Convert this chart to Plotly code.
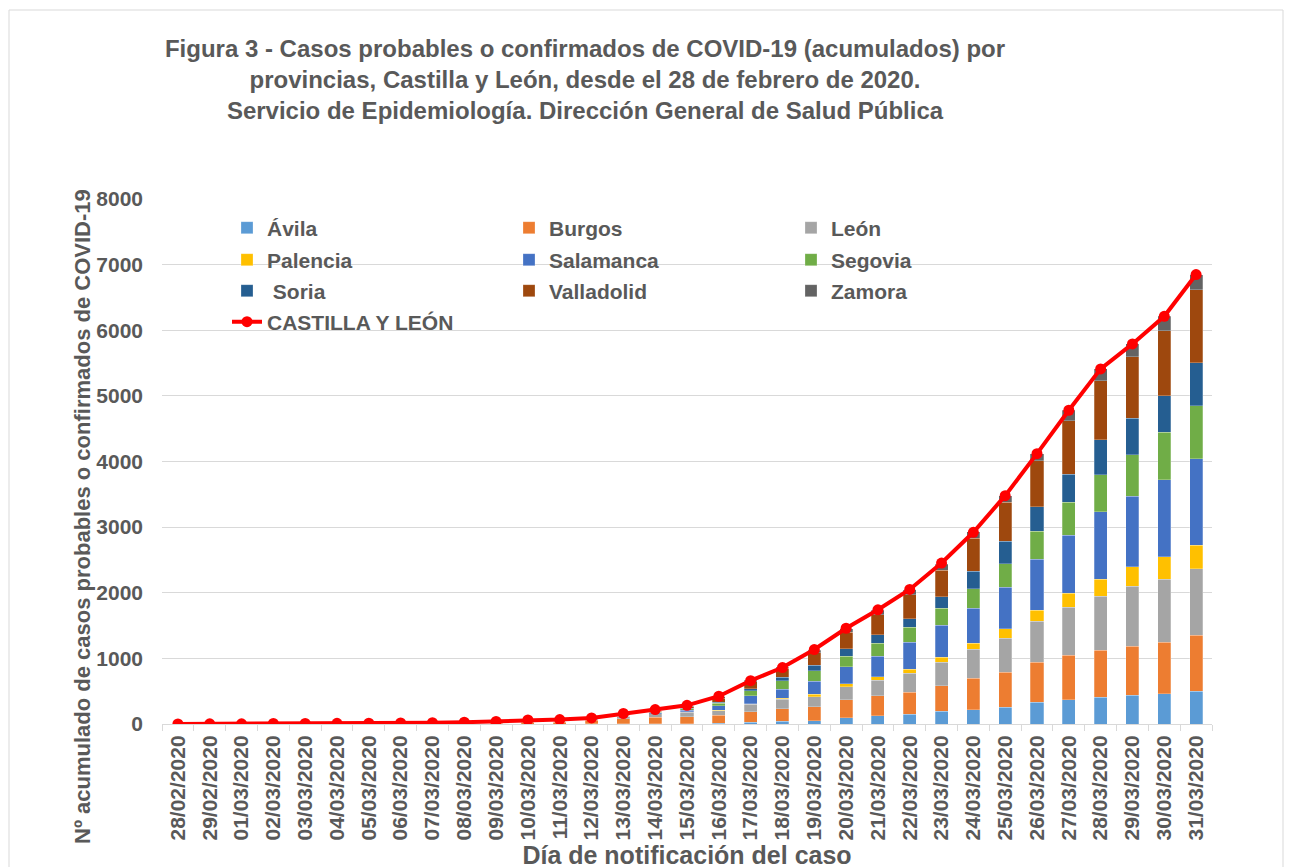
import plotly.graph_objects as go

dates = ["28/02/2020", "29/02/2020", "01/03/2020", "02/03/2020", "03/03/2020", "04/03/2020",
         "05/03/2020", "06/03/2020", "07/03/2020", "08/03/2020", "09/03/2020", "10/03/2020",
         "11/03/2020", "12/03/2020", "13/03/2020", "14/03/2020", "15/03/2020", "16/03/2020",
         "17/03/2020", "18/03/2020", "19/03/2020", "20/03/2020", "21/03/2020", "22/03/2020",
         "23/03/2020", "24/03/2020", "25/03/2020", "26/03/2020", "27/03/2020", "28/03/2020",
         "29/03/2020", "30/03/2020", "31/03/2020"]

avila = [0, 0, 0, 0, 0, 0, 0, 0, 0, 0, 0, 0, 0, 1, 2, 3, 5, 15, 25, 41, 46, 97, 128, 147,
         192, 217, 259, 335, 370, 410, 441, 462, 498]
burgos = [0, 0, 0, 2, 2, 3, 3, 5, 6, 10, 15, 25, 30, 55, 77, 103, 108, 118, 164, 194, 214, 275,
          306, 335, 392, 482, 528, 605, 676, 712, 747, 782, 854]
leon = [0, 0, 0, 1, 1, 1, 1, 2, 2, 3, 5, 8, 9, 12, 40, 50, 67, 71, 112, 143, 158, 194, 229, 292,
        360, 442, 523, 624, 732, 823, 910, 965, 1011]
palencia = [0, 0, 0, 0, 0, 0, 0, 0, 0, 0, 0, 0, 0, 0, 2, 4, 8, 8, 10, 15, 34, 46, 56, 64,
            76, 92, 142, 168, 213, 264, 300, 336, 361]
salamanca = [0, 0, 0, 0, 0, 0, 0, 1, 1, 2, 3, 5, 5, 6, 8, 12, 25, 67, 123, 138, 196, 260, 312,
             407, 483, 534, 631, 782, 884, 1027, 1072, 1179, 1316]
segovia = [0, 0, 0, 0, 0, 0, 0, 0, 1, 2, 3, 4, 4, 4, 5, 10, 22, 35, 76, 127, 160, 164, 199, 226,
           264, 295, 360, 422, 507, 564, 635, 721, 813]
soria = [0, 0, 0, 0, 0, 0, 0, 0, 0, 0, 1, 1, 1, 1, 2, 4, 8, 21, 31, 51, 85, 112, 127, 136,
         173, 269, 340, 371, 427, 529, 554, 559, 649]
valladolid = [0, 0, 0, 0, 0, 1, 1, 2, 2, 3, 4, 6, 7, 8, 8, 10, 18, 61, 102, 138, 194, 250, 311,
              359, 401, 503, 599, 707, 809, 899, 935, 986, 1118]
zamora = [0, 0, 0, 0, 0, 0, 0, 0, 0, 0, 0, 0, 0, 1, 1, 4, 7, 20, 20, 20, 37, 51, 67, 77,
          95, 95, 98, 106, 163, 183, 198, 223, 229]
castilla_leon = [1, 2, 3, 8, 9, 11, 12, 17, 19, 27, 38, 62, 67, 92, 160, 220, 285, 423, 660, 860,
                 1135, 1459, 1740, 2050, 2453, 2921, 3480, 4120, 4781, 5411, 5792, 6213, 6849]

y_ticks = [0, 1000, 2000, 3000, 4000, 5000, 6000, 7000, 8000]

provinces = [
    ("Ávila", avila, "#5B9BD5", "legend"),
    ("Burgos", burgos, "#ED7D31", "legend"),
    ("León", leon, "#A5A5A5", "legend"),
    ("Palencia", palencia, "#FFC000", "legend2"),
    ("Salamanca", salamanca, "#4472C4", "legend2"),
    ("Segovia", segovia, "#70AD47", "legend2"),
    (" Soria", soria, "#255E91", "legend3"),
    ("Valladolid", valladolid, "#9E480E", "legend3"),
    ("Zamora", zamora, "#636363", "legend3"),
]

FONT = "Liberation Sans, Arial, sans-serif"
GREY = "#595959"

fig = go.Figure()
for name, vals, color, lg in provinces:
    fig.add_trace(go.Bar(
        x=dates, y=vals, name=name, legend=lg,
        marker=dict(color=color, line=dict(color="rgba(255,255,255,0.5)", width=0.5)),
    ))

fig.add_trace(go.Scatter(
    x=dates, y=castilla_leon, name="CASTILLA Y LEÓN", legend="legend4",
    mode="lines+markers",
    line=dict(color="#FF0000", width=4),
    marker=dict(color="#FF0000", size=11),
))

# page is drawn with an 8px body offset: figure coords = page coords - 8
OFF = 8
W, H = 1293, 867
L = 162 - OFF
T = 199 - OFF
R = W - (1212 - OFF)
B = H - (724 - OFF)
plot_w = W - L - R
plot_h = H - T - B


def px_x(p):
    return (p - OFF - L) / plot_w


def px_y(q):
    return (H - B - (q - OFF)) / plot_h


legend_font = dict(family=FONT, size=21, color=GREY, weight="bold")
legend_common = dict(orientation="h", xanchor="left", yanchor="middle",
                     traceorder="normal",
                     bgcolor="rgba(0,0,0,0)", font=legend_font,
                     entrywidth=237, entrywidthmode="pixels", itemclick=False)
lx = px_x(227)

fig.update_layout(
    width=W, height=H,
    margin=dict(l=L, r=R, t=T, b=B),
    paper_bgcolor="white", plot_bgcolor="white",
    barmode="stack", bargap=0.59,
    font=dict(family=FONT, color=GREY),
    title=dict(
        text="Figura 3 - Casos probables o confirmados de COVID-19 (acumulados) por<br>"
             "provincias, Castilla y León, desde el 28 de febrero de 2020.<br>"
             "Servicio de Epidemiología. Dirección General de Salud Pública",
        x=(585 - OFF) / W, xanchor="center", xref="container",
        y=1 - 49 / H, yanchor="top", yref="container",
        font=dict(family=FONT, size=24, color=GREY, weight="bold"),
    ),
    legend=dict(x=lx, y=px_y(228), **legend_common),
    legend2=dict(x=lx, y=px_y(260), **legend_common),
    legend3=dict(x=lx, y=px_y(291), **legend_common),
    legend4=dict(x=lx, y=px_y(322), **legend_common),
    xaxis=dict(
        type="category", tickangle=-90, range=[-0.5, len(dates) - 0.5],
        tickfont=dict(family=FONT, size=21, color=GREY, weight="bold"),
        showline=True, linecolor="#D9D9D9", linewidth=1,
        ticks="outside", tickson="boundaries", ticklen=6, tickcolor="#D9D9D9",
        ticklabelstandoff=2,
        showgrid=False,
        title=dict(text="Día de notificación del caso", standoff=2,
                   font=dict(family=FONT, size=25, color=GREY, weight="bold")),
    ),
    yaxis=dict(
        range=[0, 8000], tickvals=y_ticks,
        tickfont=dict(family=FONT, size=21, color=GREY, weight="bold"),
        showgrid=True, gridcolor="#D9D9D9", gridwidth=1,
        zeroline=False, showline=False, ticks="", ticklabelstandoff=18,
    ),
    annotations=[dict(
        text="Nº acumulado de casos probables o confirmados de COVID-19",
        xref="paper", yref="paper", x=px_x(83), y=px_y(517),
        xanchor="center", yanchor="middle", textangle=-90, showarrow=False,
        font=dict(family=FONT, size=22, color=GREY, weight="bold"),
    )],
    shapes=[dict(type="rect", xref="paper", yref="paper",
                 x0=px_x(9), x1=px_x(1283), y0=px_y(890), y1=px_y(10),
                 line=dict(color="#D9D9D9", width=1), fillcolor="rgba(0,0,0,0)", layer="below")],
)

fig.write_html("out.html")
